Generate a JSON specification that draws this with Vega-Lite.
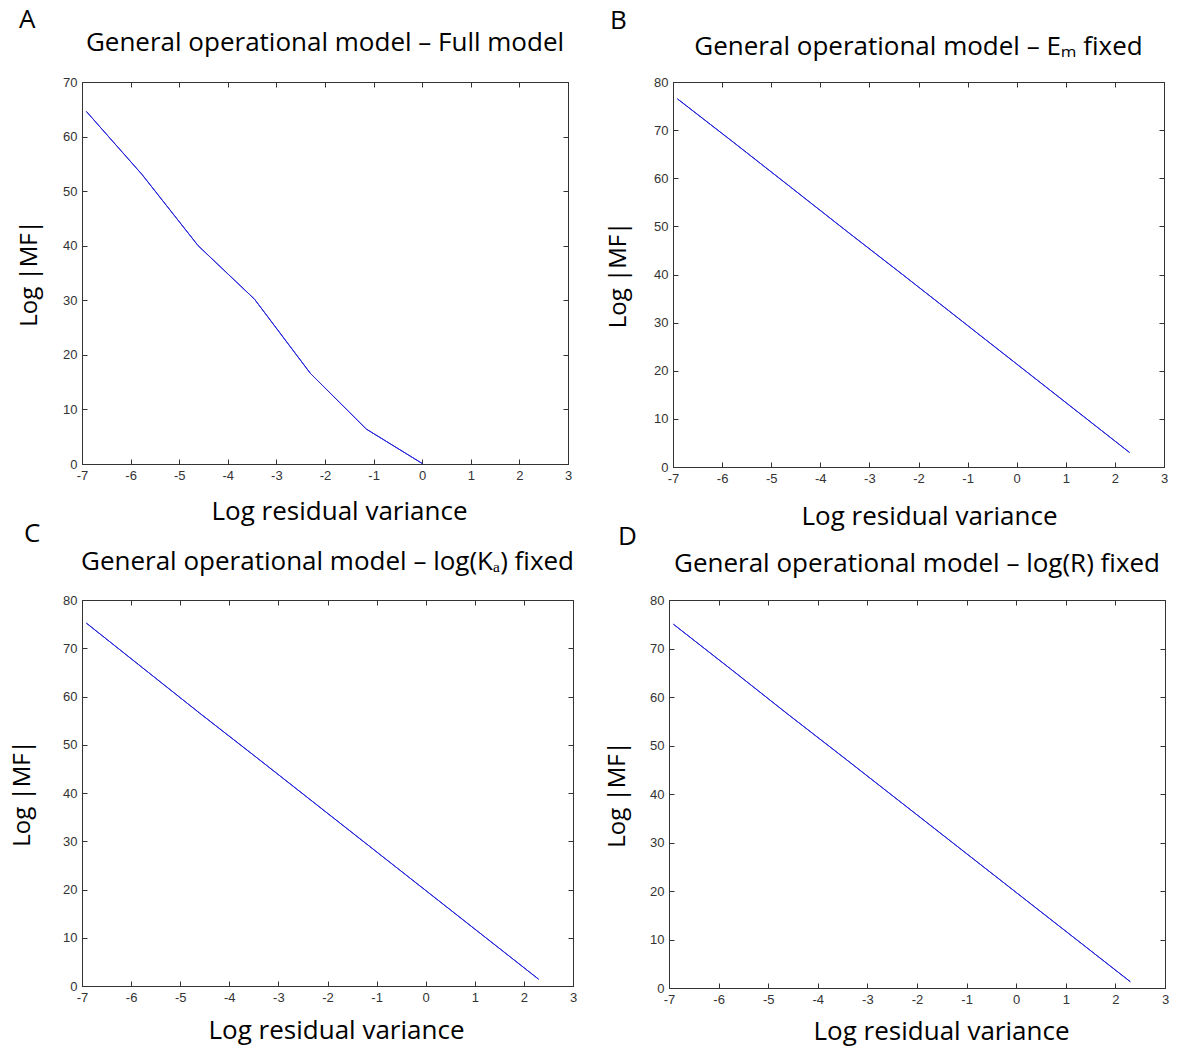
{
  "$schema": "https://vega.github.io/schema/vega-lite/v6.json",
  "padding": {"left": 10, "top": 6, "right": 0, "bottom": 6},
  "background": "white",
  "datasets": {
    "A": [{"x": -6.91, "y": 64.6}, {"x": -5.76, "y": 53.0}, {"x": -4.61, "y": 40.0}, {"x": -3.45, "y": 30.2}, {"x": -2.3, "y": 16.6}, {"x": -1.15, "y": 6.4}, {"x": 0, "y": 0.1}],
    "B": [{"x": -6.91, "y": 76.5}, {"x": -5.76, "y": 67.4}, {"x": -4.61, "y": 58.2}, {"x": -3.45, "y": 48.9}, {"x": -2.3, "y": 39.8}, {"x": -1.15, "y": 30.6}, {"x": 0, "y": 21.4}, {"x": 1.15, "y": 12.2}, {"x": 2.3, "y": 3.0}],
    "C": [{"x": -6.91, "y": 75.2}, {"x": -5.76, "y": 65.9}, {"x": -4.61, "y": 56.6}, {"x": -3.45, "y": 47.4}, {"x": -2.3, "y": 38.2}, {"x": -1.15, "y": 29.0}, {"x": 0, "y": 19.8}, {"x": 1.15, "y": 10.6}, {"x": 2.3, "y": 1.4}],
    "D": [{"x": -6.91, "y": 75.0}, {"x": -5.76, "y": 65.8}, {"x": -4.61, "y": 56.5}, {"x": -3.45, "y": 47.3}, {"x": -2.3, "y": 38.1}, {"x": -1.15, "y": 28.9}, {"x": 0, "y": 19.7}, {"x": 1.15, "y": 10.5}, {"x": 2.3, "y": 1.3}]
  },
  "vconcat": [
    {
      "hconcat": [
        {
          "title": {"text": "A", "anchor": "start", "frame": "bounds", "offset": -3, "dx": 2},
          "vconcat": [{
            "width": 486, "height": 382,
            "title": {"text": "General operational model – Full model", "anchor": "middle", "offset": 20},
            "data": {"name": "A"},
            "layer": [
              {"mark": {"type": "line", "color": "#2222dd", "strokeWidth": 1},
               "encoding": {
                 "x": {"field": "x", "type": "quantitative", "scale": {"domain": [-7, 3]}, "axis": {"values": [-7, -6, -5, -4, -3, -2, -1, 0, 1, 2, 3], "title": "Log residual variance", "titlePadding": 16, "titleX": 257}},
                 "y": {"field": "y", "type": "quantitative", "scale": {"domain": [0, 70]}, "axis": {"values": [0, 10, 20, 30, 40, 50, 60, 70], "title": "Log |MF|", "titlePadding": 21}}}},
              {"mark": {"type": "line", "color": "#2222dd", "strokeWidth": 1},
               "encoding": {
                 "x": {"field": "x", "type": "quantitative", "scale": {"domain": [-7, 3]}, "axis": {"orient": "top", "values": [-7, -6, -5, -4, -3, -2, -1, 0, 1, 2, 3], "labels": false, "title": null}},
                 "y": {"field": "y", "type": "quantitative", "scale": {"domain": [0, 70]}, "axis": {"orient": "right", "values": [0, 10, 20, 30, 40, 50, 60, 70], "labels": false, "title": null}}}}
            ],
            "resolve": {"axis": {"x": "independent", "y": "independent"}}
          }]
        },
        {
          "title": {"text": "B", "anchor": "start", "frame": "bounds", "offset": 0, "dx": 4},
          "vconcat": [{
            "width": 491, "height": 385,
            "title": {"text": "General operational model – Eₘ fixed", "anchor": "middle", "offset": 16},
            "data": {"name": "B"},
            "layer": [
              {"mark": {"type": "line", "color": "#2222dd", "strokeWidth": 1},
               "encoding": {
                 "x": {"field": "x", "type": "quantitative", "scale": {"domain": [-7, 3]}, "axis": {"values": [-7, -6, -5, -4, -3, -2, -1, 0, 1, 2, 3], "title": "Log residual variance", "titlePadding": 18, "titleX": 256}},
                 "y": {"field": "y", "type": "quantitative", "scale": {"domain": [0, 80]}, "axis": {"values": [0, 10, 20, 30, 40, 50, 60, 70, 80], "title": "Log |MF|", "titlePadding": 23}}}},
              {"mark": {"type": "line", "color": "#2222dd", "strokeWidth": 1},
               "encoding": {
                 "x": {"field": "x", "type": "quantitative", "scale": {"domain": [-7, 3]}, "axis": {"orient": "top", "values": [-7, -6, -5, -4, -3, -2, -1, 0, 1, 2, 3], "labels": false, "title": null}},
                 "y": {"field": "y", "type": "quantitative", "scale": {"domain": [0, 80]}, "axis": {"orient": "right", "values": [0, 10, 20, 30, 40, 50, 60, 70, 80], "labels": false, "title": null}}}}
            ],
            "resolve": {"axis": {"x": "independent", "y": "independent"}}
          }]
        }
      ],
      "spacing": 33
    },
    {
      "hconcat": [
        {
          "title": {"text": "C", "anchor": "start", "frame": "bounds", "offset": 2, "dx": 14},
          "vconcat": [{
            "width": 491, "height": 386,
            "title": {"text": "General operational model – log(Kₐ) fixed", "anchor": "middle", "offset": 19},
            "data": {"name": "C"},
            "layer": [
              {"mark": {"type": "line", "color": "#2222dd", "strokeWidth": 1},
               "encoding": {
                 "x": {"field": "x", "type": "quantitative", "scale": {"domain": [-7, 3]}, "axis": {"values": [-7, -6, -5, -4, -3, -2, -1, 0, 1, 2, 3], "title": "Log residual variance", "titlePadding": 13, "titleX": 254}},
                 "y": {"field": "y", "type": "quantitative", "scale": {"domain": [0, 80]}, "axis": {"values": [0, 10, 20, 30, 40, 50, 60, 70, 80], "title": "Log |MF|", "titlePadding": 28}}}},
              {"mark": {"type": "line", "color": "#2222dd", "strokeWidth": 1},
               "encoding": {
                 "x": {"field": "x", "type": "quantitative", "scale": {"domain": [-7, 3]}, "axis": {"orient": "top", "values": [-7, -6, -5, -4, -3, -2, -1, 0, 1, 2, 3], "labels": false, "title": null}},
                 "y": {"field": "y", "type": "quantitative", "scale": {"domain": [0, 80]}, "axis": {"orient": "right", "values": [0, 10, 20, 30, 40, 50, 60, 70, 80], "labels": false, "title": null}}}}
            ],
            "resolve": {"axis": {"x": "independent", "y": "independent"}}
          }]
        },
        {
          "title": {"text": "D", "anchor": "start", "frame": "bounds", "offset": 1, "dx": 13},
          "vconcat": [{
            "width": 496, "height": 388,
            "title": {"text": "General operational model – log(R) fixed", "anchor": "middle", "offset": 17},
            "data": {"name": "D"},
            "layer": [
              {"mark": {"type": "line", "color": "#2222dd", "strokeWidth": 1},
               "encoding": {
                 "x": {"field": "x", "type": "quantitative", "scale": {"domain": [-7, 3]}, "axis": {"values": [-7, -6, -5, -4, -3, -2, -1, 0, 1, 2, 3], "title": "Log residual variance", "titlePadding": 12, "titleX": 272}},
                 "y": {"field": "y", "type": "quantitative", "scale": {"domain": [0, 80]}, "axis": {"values": [0, 10, 20, 30, 40, 50, 60, 70, 80], "title": "Log |MF|", "titlePadding": 20}}}},
              {"mark": {"type": "line", "color": "#2222dd", "strokeWidth": 1},
               "encoding": {
                 "x": {"field": "x", "type": "quantitative", "scale": {"domain": [-7, 3]}, "axis": {"orient": "top", "values": [-7, -6, -5, -4, -3, -2, -1, 0, 1, 2, 3], "labels": false, "title": null}},
                 "y": {"field": "y", "type": "quantitative", "scale": {"domain": [0, 80]}, "axis": {"orient": "right", "values": [0, 10, 20, 30, 40, 50, 60, 70, 80], "labels": false, "title": null}}}}
            ],
            "resolve": {"axis": {"x": "independent", "y": "independent"}}
          }]
        }
      ],
      "spacing": 27
    }
  ],
  "spacing": -10,
  "config": {
    "view": {"stroke": "#333333", "strokeWidth": 1},
    "axis": {
      "grid": false,
      "domainColor": "#333333",
      "tickColor": "#333333",
      "tickSize": -5,
      "labelFont": "Liberation Sans",
      "labelFontSize": 13,
      "labelColor": "#333333",
      "labelPadding": 10,
      "labelFlush": false,
      "labelOverlap": false,
      "labelExpr": "replace(datum.label, '−', '-')",
      "titleFont": "Open Sans",
      "titleFontSize": 26,
      "titleFontWeight": "normal",
      "titleColor": "#000000"
    },
    "axisY": {"titleFontSize": 24},
    "title": {"font": "Open Sans", "fontSize": 26, "fontWeight": "normal", "color": "#000000"}
  }
}
